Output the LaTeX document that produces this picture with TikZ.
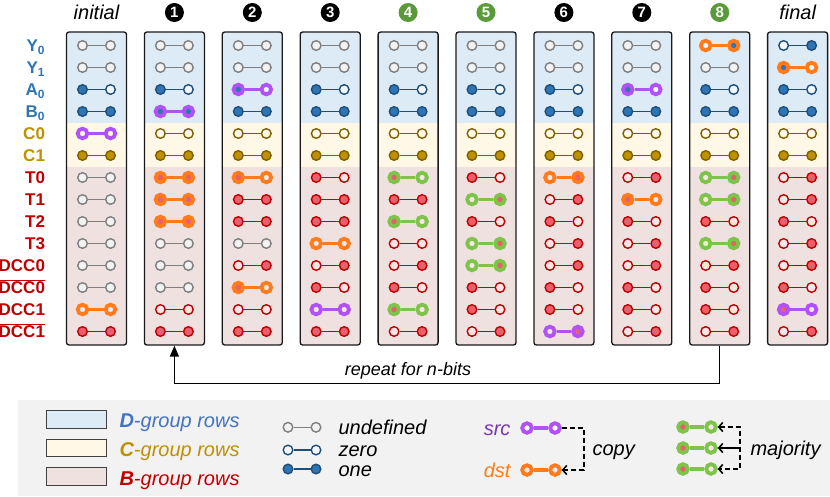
\documentclass[tikz,border=0pt]{standalone}
\usepackage{fontspec}
\setmainfont{Liberation Sans}
\usetikzlibrary{arrows.meta}

% group backgrounds
\definecolor{Dbg}{HTML}{DDEBF7}
\definecolor{Cbg}{HTML}{FFF8E6}
\definecolor{Bbg}{HTML}{F0E1E1}
\definecolor{legbg}{HTML}{F2F2F2}
% cell fills (o = one, z = zero, u = undefined) and edges (...e)
\definecolor{Do}{HTML}{2E75B6}
\definecolor{Doe}{HTML}{1F4E79}
\definecolor{Dz}{HTML}{F3F7FC}
\definecolor{Dze}{HTML}{1F4E79}
\definecolor{Co}{HTML}{BF9000}
\definecolor{Coe}{HTML}{7F6000}
\definecolor{Cz}{HTML}{FFFAEB}
\definecolor{Cze}{HTML}{7F6000}
\definecolor{Bo}{HTML}{E95F6B}
\definecolor{Boe}{HTML}{C00000}
\definecolor{Bz}{HTML}{F8E6E6}
\definecolor{Bze}{HTML}{C00000}
\definecolor{Du}{HTML}{F2F2F2}
\definecolor{Due}{HTML}{7F7F7F}
\colorlet{Cu}{Du}\colorlet{Cue}{Due}
\colorlet{Bu}{Du}\colorlet{Bue}{Due}
% highlights: src, dst, majority
\definecolor{hs}{HTML}{B052F6}
\definecolor{hd}{HTML}{FF7B1C}
\definecolor{hm}{HTML}{7EC44B}
% texts
\definecolor{Dtxt}{HTML}{2E75B6}
\definecolor{Dleg}{HTML}{4472C4}
\definecolor{Ctxt}{HTML}{BF9000}
\definecolor{Btxt}{HTML}{C00000}
\definecolor{srctxt}{HTML}{7A35B0}
\definecolor{stepgreen}{HTML}{5A9A3B}

\tikzset{
  cell/.style={circle, inner sep=0pt, minimum size=9.6pt, line width=1.4pt},
  link/.style={line width=1.6pt},
  hot/.style={line width=3.8pt, minimum size=9.6pt, draw=#1},
  colbox/.style={draw=black!90, line width=1.3pt, rounded corners=2.5pt,
    minimum width=60pt, minimum height=313pt, inner sep=0pt},
  rowlbl/.style={anchor=base east, font=\fontsize{17}{20}\selectfont\bfseries},
  head/.style={anchor=base, font=\fontsize{20}{24}\selectfont\itshape},
  stepnum/.style={circle, fill=#1, text=white, inner sep=0pt, minimum size=19pt,
    font=\fontsize{15}{17}\selectfont\bfseries},
  legbox/.style={draw=black!75, line width=1pt, minimum width=60pt,
    minimum height=17.5pt, inner sep=0pt},
  legtxt/.style={anchor=base west, font=\fontsize{20}{24}\selectfont\itshape},
  flow/.style={line width=1.6pt, dash pattern=on 5pt off 3pt},
  barb/.tip={Straight Barb[length=4pt,width=9pt]},
}

% name, x, y, group, left, right, highlight
\newcommand\pair[7]{%
  \if n#7
    \node[cell, draw=#4#5e, fill=#4#5] (#1l) at (#2-14,#3) {};
    \node[cell, draw=#4#6e, fill=#4#6] (#1r) at (#2+14,#3) {};
    \draw[link, draw=#4#5e] (#1l) -- (#1r);
  \else
    \node[cell, fill=#4#5, hot=h#7] (#1l) at (#2-14,#3) {};
    \node[cell, fill=#4#6, hot=h#7] (#1r) at (#2+14,#3) {};
    \draw[line width=3.8pt, draw=h#7] (#1l) -- (#1r);
  \fi}

% column number, list of rows
\newcommand\colcells[2]{%
  \foreach \lv/\rv/\hv [count=\row from 0] in {#2} {%
    \ifnum\row<4 \def\grp{D}\else\ifnum\row<6 \def\grp{C}\else\def\grp{B}\fi\fi
    \pair{p#1-\row}{96.5+77.9*#1}{45.5+22*\row}{\grp}{\lv}{\rv}{\hv}
  }}

\begin{document}
\begin{tikzpicture}[x=1pt, y=-1pt, font=\fontsize{18}{21}\selectfont]
\useasboundingbox (0,0) rectangle (830,496);

% bands
\foreach \i in {0,...,9} {
  \fill[Dbg] (96.5+77.9*\i-30,32) rectangle ++(60,91);
  \fill[Cbg] (96.5+77.9*\i-30,123) rectangle ++(60,44);
  \fill[Bbg] (96.5+77.9*\i-30,167) rectangle ++(60,178);
}

% headers
\node[head] (h0) at (96.5,19.5) {initial};
\foreach \i/\c in {1/black,2/black,3/black,4/stepgreen,5/stepgreen,6/black,7/black,8/stepgreen}
  \node[stepnum=\c] (h\i) at (96.5+77.9*\i,12.5) {\i};
\node[head] (h9) at (797.6,19.5) {final};

% row labels
\foreach \t [count=\row from 0] in {Y\textsubscript{0},Y\textsubscript{1},A\textsubscript{0},B\textsubscript{0}}
  \node[rowlbl, text=Dtxt] (lbl\row) at (48.5,51.6+22*\row) {\t};
\foreach \t [count=\row from 4] in {C0,C1}
  \node[rowlbl, text=Ctxt] (lbl\row) at (48.5,51.6+22*\row) {\t};
\foreach \t [count=\row from 6] in {T0,T1,T2,T3,DCC0,{$\overline{\mbox{DCC0}}$},DCC1,{$\overline{\mbox{DCC1}}$}}
  \node[rowlbl, text=Btxt] (lbl\row) at (48.5,51.6+22*\row) {\t};

% cells
\colcells{0}{u/u/n, u/u/n, o/z/n, o/o/n, z/z/s, o/o/n, u/u/n, u/u/n, u/u/n, u/u/n, u/u/n, u/u/n, z/z/d, o/o/n}
\colcells{1}{u/u/n, u/u/n, o/z/n, o/o/s, z/z/n, o/o/n, o/o/d, o/o/d, o/o/d, u/u/n, u/u/n, u/u/n, z/z/n, o/o/n}
\colcells{2}{u/u/n, u/u/n, o/z/s, o/o/n, z/z/n, o/o/n, o/z/d, o/o/n, o/o/n, u/u/n, z/o/n, o/z/d, z/z/n, o/o/n}
\colcells{3}{u/u/n, u/u/n, o/z/n, o/o/n, z/z/n, o/o/n, o/z/n, o/o/n, o/o/n, z/z/d, z/o/n, o/z/n, z/z/s, o/o/n}
\colcells{4}{u/u/n, u/u/n, o/z/n, o/o/n, z/z/n, o/o/n, o/z/m, o/o/n, o/z/m, z/z/n, z/o/n, o/z/n, o/z/m, z/o/n}
\colcells{5}{u/u/n, u/u/n, o/z/n, o/o/n, z/z/n, o/o/n, o/z/n, z/o/m, o/z/n, z/o/m, z/o/m, o/z/n, o/z/n, z/o/n}
\colcells{6}{u/u/n, u/u/n, o/z/n, o/o/n, z/z/n, o/o/n, z/o/d, z/o/n, o/z/n, z/o/n, z/o/n, o/z/n, o/z/n, z/o/s}
\colcells{7}{u/u/n, u/u/n, o/z/s, o/o/n, z/z/n, o/o/n, z/o/n, o/z/d, o/z/n, z/o/n, z/o/n, o/z/n, o/z/n, z/o/n}
\colcells{8}{z/o/d, u/u/n, o/z/n, o/o/n, z/z/n, o/o/n, z/o/m, z/o/m, o/z/n, z/o/m, z/o/n, o/z/n, o/z/n, z/o/n}
\colcells{9}{z/o/n, o/z/d, o/z/n, o/o/n, z/z/n, o/o/n, z/o/n, z/o/n, o/z/n, z/o/n, z/o/n, o/z/n, o/z/s, z/o/n}

% column outlines
\foreach \i in {0,...,9}
  \node[colbox] (col\i) at (96.5+77.9*\i,188.5) {};

% loop back
\draw[line width=1.5pt, -{Triangle[length=11pt,width=9pt]}] (col8.south) -- ++(0,38) -| (col1.south);
\node[anchor=base, font=\fontsize{18}{21}\selectfont\itshape] (rep) at (408,375) {repeat for n-bits};

% legend
\fill[legbg] (18,400) rectangle (830,496);
\node[legbox, fill=Dbg] (legD) at (76,419.5) {};
\node[legbox, fill=Cbg] (legC) at (76,448) {};
\node[legbox, fill=Bbg] (legB) at (76,476.5) {};
\node[legtxt, text=Dleg] (legDt) at (116,427.5) {\textbf{D}-group rows};
\node[legtxt, text=Ctxt] (legCt) at (116,456) {\textbf{C}-group rows};
\node[legtxt, text=Btxt] (legBt) at (116,485) {\textbf{B}-group rows};

\pair{legu}{302}{427.3}{D}{u}{u}{n}
\pair{legz}{302}{450}{D}{z}{z}{n}
\pair{lego}{302}{469}{D}{o}{o}{n}
\node[legtxt] (legut) at (335,434) {undefined};
\node[legtxt] (legzt) at (335,456.5) {zero};
\node[legtxt] (legot) at (335,476.5) {one};

\pair{lsrc}{541}{428}{D}{z}{z}{s}
\pair{ldst}{541}{470}{B}{z}{z}{d}
\node[anchor=base east, font=\fontsize{20}{24}\selectfont\itshape, text=srctxt] (srct) at (514,435) {src};
\node[anchor=base east, font=\fontsize{20}{24}\selectfont\itshape, text=hd] (dstt) at (514,477) {dst};
\draw[flow, -barb] (lsrcr.east) -- ++(22,0) |- (ldstr.east);
\node[legtxt] (copyt) at (589,455) {copy};

\pair{lmaj1}{697}{427}{B}{o}{z}{m}
\pair{lmaj2}{697}{448}{B}{o}{z}{m}
\pair{lmaj3}{697}{469}{B}{o}{z}{m}
\coordinate (mjx) at (740,448);
\draw[flow, barb-barb] (lmaj1r.east) -| (mjx) |- (lmaj3r.east);
\draw[line width=1.6pt, -barb] (mjx) -- (lmaj2r.east);
\node[legtxt] (majt) at (747,455) {majority};
\end{tikzpicture}
\end{document}
